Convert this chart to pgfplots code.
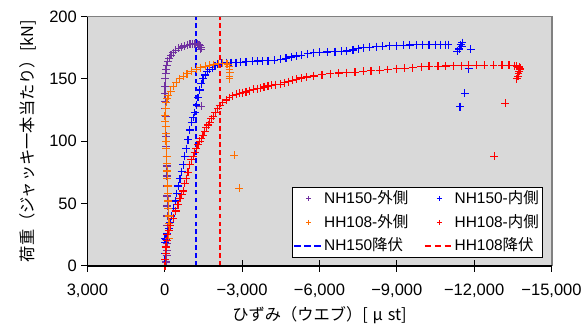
\documentclass[border=0pt]{standalone}
\usepackage{pgfplots}
\pgfplotsset{compat=1.18}
\usepackage{fontspec}
\setmainfont{Liberation Sans}
\newfontfamily\jp{Noto Sans CJK JP}
\definecolor{mypurple}{RGB}{112,48,160}
\definecolor{nhblue}{rgb}{0,0,1}
\definecolor{myorange}{RGB}{255,110,0}
\definecolor{myred}{rgb}{1,0,0}
\definecolor{bggray}{RGB}{217,217,217}
\definecolor{framegray}{RGB}{128,128,128}
\pgfplotsset{
  legmark/.style={legend image code/.code={\draw[mark repeat=2,mark phase=2,##1,mark size=1.9pt,line width=0.6pt] plot coordinates {(0pt,0pt) (11pt,0pt) (22pt,0pt)};}},
  dat/.style={only marks, mark=+, mark size=3pt, line width=0.9pt, legmark},
}
\begin{document}
\begin{tikzpicture}
\begin{axis}[
  name=main,
  scale only axis, width=351.3pt, height=188.7pt,
  x dir=reverse, xmin=-15000, xmax=3000, ymin=0, ymax=200,
  scaled x ticks=false, scaled y ticks=false,
  xtick={-15000,-12000,-9000,-6000,-3000,0,3000},
  xticklabels={{−15,000},{−12,000},{−9,000},{−6,000},{−3,000},{0},{3,000}},
  ytick={0,50,100,150,200}, yticklabels={0,50,100,150,200},
  tick pos=left, tick align=outside, major tick length=4.5pt,
  tick style={black, line width=0.6pt},
  extra x ticks={-15000,-12000,-9000,-6000,-3000,0,3000},
  extra x tick labels={,,,,,,},
  extra x tick style={tick align=inside},
  axis line style={draw=none},
  axis background/.style={fill=bggray},
  tick label style={font=\fontsize{12.5}{14}\selectfont},
  xticklabel style={yshift=-6pt},
  xlabel={\jp ひずみ（ウエブ）[\hspace{0.3em}μ\hspace{0.3em}st]},
  ylabel={\jp 荷重（ジャッキ一本当たり）[kN]},
  label style={font=\fontsize{12.3}{14}\selectfont},
  xlabel style={at={(axis description cs:0.5,-0.2)}, anchor=center},
  ylabel style={at={(axis description cs:-0.128,0.5)}, anchor=center},
  legend columns=2, legend cell align=left,
  legend style={at={(rel axis cs:0.982,0.032)}, anchor=south east, draw=black, line width=0.6pt, fill=white,
    font=\fontsize{11.7}{13}\selectfont, inner sep=1pt, row sep=3pt,
    nodes={inner sep=2pt, text height=9pt, text depth=2pt},
    /tikz/every even column/.append style={column sep=10pt}},
]
% NH150-外側
\addplot[dat, color=mypurple] coordinates {
(-60,3) (-70,8) (-80,12) (-90,18) (-90,25) (-100,32) (-100,40) (-100,48) (-95,56) (-90,64)
(-85,72) (-80,80) (-70,88) (-60,96) (-50,104) (-40,112) (-30,120) (-20,126) (-15,132) (-10,138)
(-10,144) (-15,150) (-30,154) (-50,157.6) (-80,161) (-120,164) (-170,166.5) (-240,169) (-330,171)
(-430,173) (-540,174.5) (-650,175.5) (-760,176.3) (-870,177) (-980,177.7) (-1080,178) (-1170,178)
(-1260,177.7) (-1330,177.5) (-1380,176.5) (-1420,175) (-1400,173.5) (-1420,128)
};
\addlegendentry{NH150-{\jp 外側}}
% NH150-内側
\addplot[dat, color=nhblue] coordinates {
(-10,5) (-20,10) (-30,15) (-20,19) (-40,21) (-10,22) (-60,22) (-100,26) (-150,30) (-200,35)
(-260,40) (-330,46) (-400,52) (-457,58) (-520,64) (-590,70) (-650,75.5) (-710,81) (-780,88)
(-840,94) (-900,101) (-970,109) (-1040,115) (-1100,119) (-1165,123) (-1230,129) (-1290,135)
(-1360,141) (-1420,146) (-1485,150) (-1570,153) (-1650,156) (-1740,157.6) (-1850,159) (-1950,160.5)
(-2060,161.6) (-2200,162.5) (-2380,163) (-2570,163) (-2760,163) (-2950,163.2) (-3150,163.6)
(-3405,164) (-3600,164.3) (-3800,164.4) (-4000,164.6) (-4250,165) (-4490,165.6) (-4700,166.5)
(-4900,167.5) (-5100,168.3) (-5300,169) (-5550,170) (-5780,171) (-6000,171.3) (-6300,171.5)
(-6600,171.8) (-6850,172) (-7055,172.3) (-7300,173.2) (-7500,174.2) (-7700,175) (-7950,175.4)
(-8200,175.8) (-8450,176.2) (-8700,176.5) (-8980,176.7) (-9250,177) (-9500,177.2) (-9750,177.3)
(-10000,177.4) (-10250,177.5) (-10500,177.5) (-10700,177.5) (-10900,177.5) (-11000,177.4)
(-11350,172) (-11420,174) (-11475,177.5) (-11540,179) (-11520,176)
(-11860,173.6) (-11790,158) (-11640,138.5) (-11450,127.7)
};
\addlegendentry{NH150-{\jp 内側}}
% HH108-外側
\addplot[dat, color=myorange] coordinates {
(-150,22) (-170,28) (-160,34) (-150,40) (-140,46) (-130,52) (-120,58) (-110,64) (-100,70)
(-90,76) (-80,82) (-70,88) (-60,94) (-50,100) (-40,106) (-30,112) (-20,116) (-10,120.5)
(-30,126) (-60,131) (-100,134) (-140,136.4) (-230,140) (-330,144) (-450,147) (-580,150)
(-715,152) (-860,154) (-1040,156) (-1225,157.6) (-1400,159) (-1570,160) (-1740,160.8)
(-1900,161.5) (-2080,162) (-2250,162.4) (-2380,162.2) (-2445,161.6) (-2500,160) (-2510,157.6)
(-2520,155) (-2510,152) (-2510,150) (-2700,88.7) (-2890,62.3)
};
\addlegendentry{HH108-{\jp 外側}}
% HH108-内側
\addplot[dat, color=myred] coordinates {
(-10,0) (-20,5) (-30,10) (-50,15) (-70,20) (-100,25) (-150,28) (-220,32) (-330,38) (-420,44)
(-510,49) (-590,54) (-650,57) (-715,60) (-780,66) (-840,70) (-900,75) (-970,81) (-1030,85)
(-1100,88) (-1160,91) (-1225,94) (-1290,97) (-1350,100) (-1420,102) (-1480,104.6) (-1550,108)
(-1610,111) (-1680,113) (-1740,115) (-1810,118) (-1880,120) (-1960,123) (-2060,126)
(-2125,128.5) (-2250,131) (-2380,133) (-2510,135) (-2640,136.4) (-2780,137.5) (-2900,138.5)
(-3020,139) (-3150,139.5) (-3300,140.5) (-3450,141.5) (-3600,142) (-3720,142.5) (-3850,143.5)
(-4000,144.2) (-4150,144.8) (-4300,145.3) (-4490,145.7) (-4650,146.8) (-4800,147.8)
(-4950,148.8) (-5100,149.6) (-5300,150.6) (-5500,151.4) (-5780,152.3) (-6100,153.2)
(-6420,154) (-6740,154.6) (-7055,155) (-7380,155.3) (-7700,156) (-8000,156.4) (-8335,156.8)
(-8650,157.5) (-9000,158.2) (-9300,158.6) (-9620,159) (-9950,159.6) (-10250,160) (-10600,160.2)
(-10900,160.3) (-11200,160.5) (-11500,160.6) (-11790,160.8) (-12100,161) (-12400,161)
(-12750,161) (-13080,161) (-13350,160.8) (-13550,160.5) (-13650,160.3) (-13750,159.5)
(-13780,158.5) (-13780,157.6) (-13750,156) (-13720,154) (-13700,152) (-13650,150)
(-13200,130.4) (-12780,88)
};
\addlegendentry{HH108-{\jp 内側}}
\addplot[color=nhblue, line width=1.2pt, dash pattern=on 3.5pt off 2.5pt,
  legend image code/.code={\draw[nhblue, line width=1.1pt, dash pattern=on 5pt off 2.5pt] (0pt,0pt) -- (20pt,0pt);}]
  coordinates {(-1200,0) (-1200,200)};
\addlegendentry{NH150{\jp 降伏}}
\addplot[color=myred, line width=1.2pt, dash pattern=on 3.5pt off 2.5pt,
  legend image code/.code={\draw[myred, line width=1.1pt, dash pattern=on 5pt off 2.5pt] (0pt,0pt) -- (20pt,0pt);}]
  coordinates {(-2150,0) (-2150,200)};
\addlegendentry{HH108{\jp 降伏}}
\end{axis}
\draw[framegray, line width=1.5pt] (main.north west) -- (main.north east) -- (main.south east);
\draw[black, line width=0.75pt] (main.north west) -- (main.south west);
\draw[black, line width=1.7pt] (main.south west) -- (main.south east);
\path (main.south west) ++(-66.2pt,-41pt) coordinate (bl);
\path (main.north east) ++(22pt,12.5pt) coordinate (tr);
\path (bl) rectangle (tr);
\end{tikzpicture}
\end{document}
